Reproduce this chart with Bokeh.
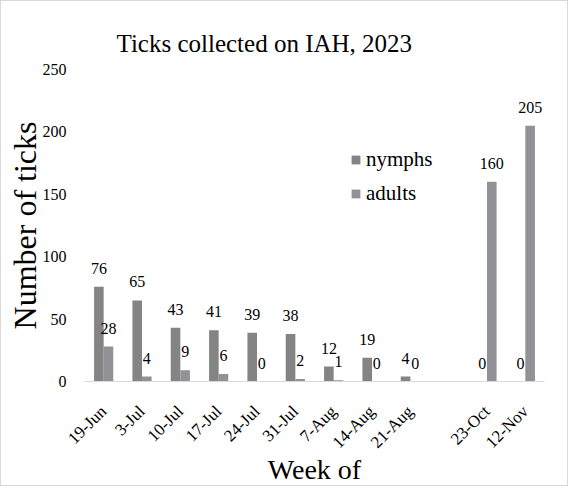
from math import pi
from bokeh.plotting import figure
from bokeh.core.properties import value
from bokeh.models import (ColumnDataSource, FactorRange, Range1d, FixedTicker,
                          LabelSet, Legend, LegendItem)
from bokeh.transform import dodge
from bokeh.embed import file_html
from bokeh.resources import INLINE

weeks = ["19-Jun", "3-Jul", "10-Jul", "17-Jul", "24-Jul", "31-Jul", "7-Aug",
         "14-Aug", "21-Aug", "23-Oct", "12-Nov"]
nymphs = [76, 65, 43, 41, 39, 38, 12, 19, 4, 0, 0]
adults = [28, 4, 9, 6, 0, 2, 1, 0, 0, 160, 205]
x_factors = weeks[:9] + [" "] + weeks[9:]
y_ticks = [0, 50, 100, 150, 200, 250]

FONT = "Liberation Serif"
NYMPH_COLOR = "#848484"
ADULT_COLOR = "#919196"

src = ColumnDataSource(dict(
    week=weeks, nymphs=nymphs, adults=adults,
    nl=[str(v) for v in nymphs], al=[str(v) for v in adults]))

p = figure(width=568, height=486, x_range=FactorRange(factors=x_factors),
           y_range=Range1d(0, 250), output_backend="svg", toolbar_location=None,
           min_border_left=83, min_border_right=25, min_border_top=68,
           min_border_bottom=106)
p.styles = {"border": "1px solid #d9d9d9"}
p.outline_line_color = None
p.xgrid.grid_line_color = None
p.ygrid.grid_line_color = None
p.background_fill_color = "white"
p.border_fill_color = "white"

# title
p.title.text = "Ticks collected on IAH, 2023"
p.title.text_font = FONT
p.title.text_font_size = "25px"
p.title.text_font_style = "normal"
p.title.text_color = "black"
p.title.align = "left"
p.title.offset = 32
p.title.standoff = 26

rn = p.vbar(x=dodge("week", -0.125, range=p.x_range), top="nymphs", width=0.25,
            source=src, fill_color=NYMPH_COLOR, line_color=None)
ra = p.vbar(x=dodge("week", 0.125, range=p.x_range), top="adults", width=0.25,
            source=src, fill_color=ADULT_COLOR, line_color=None)

for txt, fld, off in (("nl", "nymphs", -0.125), ("al", "adults", 0.125)):
    p.add_layout(LabelSet(x=dodge("week", off, range=p.x_range), y=fld,
                          text=txt, source=src, text_align="center",
                          text_baseline="bottom", y_offset=13,
                          text_font=value(FONT), text_font_size=value("16px"),
                          text_color="black"))

# y axis
p.yaxis.ticker = FixedTicker(ticks=y_ticks)
p.yaxis.axis_line_color = None
p.yaxis.major_tick_line_color = None
p.yaxis.minor_tick_line_color = None
p.yaxis.major_label_standoff = 12
p.yaxis.major_label_text_font = FONT
p.yaxis.major_label_text_font_size = "16px"
p.yaxis.major_label_text_color = "black"
p.yaxis.axis_label = "Number of ticks"
p.yaxis.axis_label_text_font = FONT
p.yaxis.axis_label_text_font_size = "32px"
p.yaxis.axis_label_text_font_style = "normal"
p.yaxis.axis_label_text_color = "black"
p.yaxis.axis_label_standoff = -3

# x axis
p.xaxis.axis_line_color = "#d9d9d9"
p.xaxis.major_tick_line_color = None
p.xaxis.minor_tick_line_color = None
p.xaxis.major_label_orientation = pi / 4
p.xaxis.major_label_standoff = 21
p.xaxis.major_label_text_font = FONT
p.xaxis.major_label_text_font_size = "17px"
p.xaxis.major_label_text_color = "black"
p.xaxis.axis_label = "Week of"
p.xaxis.axis_label_text_font = FONT
p.xaxis.axis_label_text_font_size = "28px"
p.xaxis.axis_label_text_font_style = "normal"
p.xaxis.axis_label_text_color = "black"
p.xaxis.axis_label_standoff = -8

legend = Legend(items=[LegendItem(label="nymphs", renderers=[rn]),
                       LegendItem(label="adults", renderers=[ra])],
                location=(266, 175), orientation="vertical",
                background_fill_alpha=0, border_line_color=None,
                padding=0, margin=0, spacing=9, label_standoff=5,
                glyph_width=11, glyph_height=11,
                label_text_font=FONT, label_text_font_size="21px",
                label_text_color="black")
p.add_layout(legend)

open("out.html", "w").write(file_html(p, INLINE))
